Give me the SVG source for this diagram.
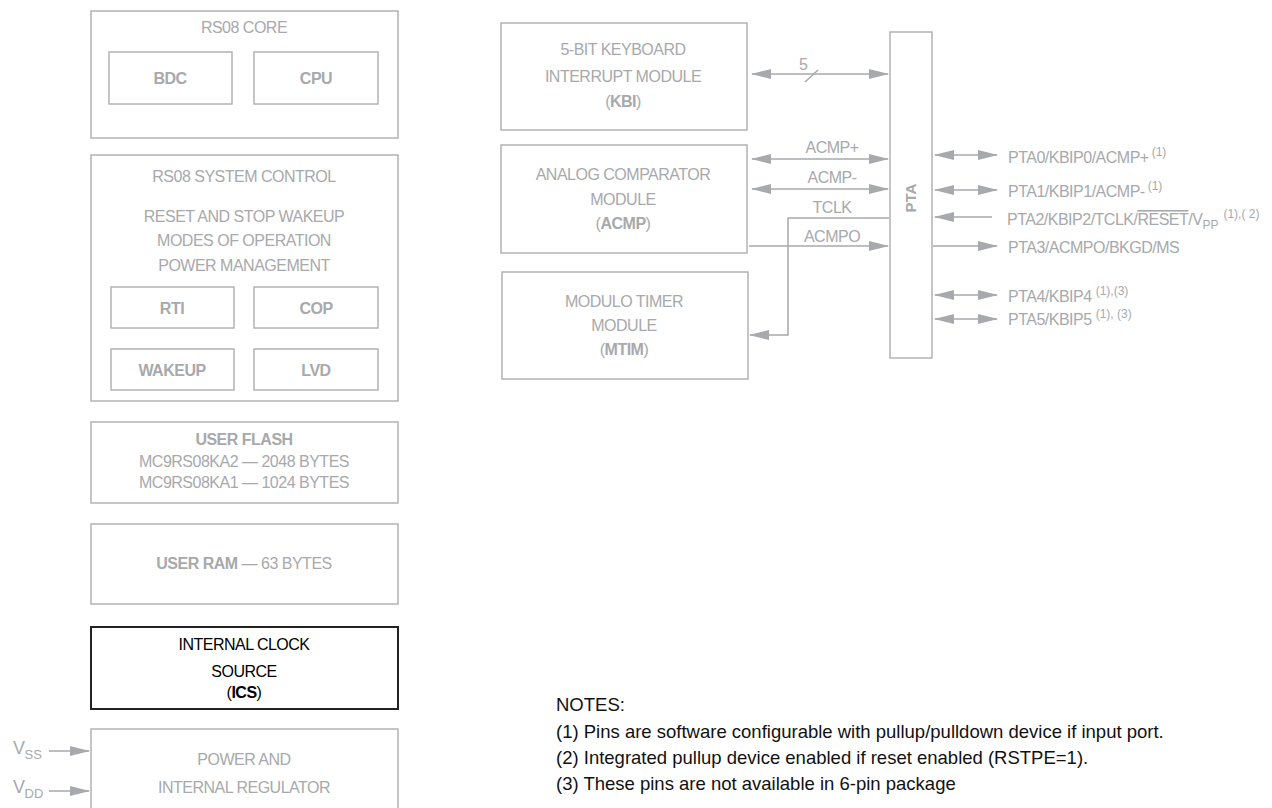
<svg xmlns="http://www.w3.org/2000/svg" width="1272" height="808" viewBox="0 0 1272 808">
<style>
text{font-family:"Liberation Sans",Arial,sans-serif;font-size:16px;fill:#a7a9ac;letter-spacing:-0.5px}
.c{text-anchor:middle}
.b{font-weight:bold}
.k{fill:#000}
.box{fill:none;stroke:#b3b3b3;stroke-width:1.5}
.kbox{fill:none;stroke:#222;stroke-width:2}
.ln{fill:none;stroke:#a7a9ac;stroke-width:1.5}
.note{fill:#111;font-size:18.5px;letter-spacing:0}
.sm{font-size:12px;letter-spacing:0}
</style>
<defs>
<marker id="ah" viewBox="0 0 20 10" refX="19" refY="5" markerWidth="20" markerHeight="10" markerUnits="userSpaceOnUse" orient="auto-start-reverse">
<path d="M0,0 L20,5 L0,10 z" fill="#a7a9ac"/>
</marker>
</defs>
<rect width="1272" height="808" fill="#fff"/>

<g id="rs08core">
<rect class="box" x="91" y="11" width="307" height="127"/>
<text class="c" x="244" y="33">RS08 CORE</text>
</g>
<g id="bdc"><rect class="box" x="109" y="52" width="123" height="52"/><text class="c b" x="170" y="84">BDC</text></g>
<g id="cpu"><rect class="box" x="254" y="52" width="124" height="52"/><text class="c b" x="316" y="84">CPU</text></g>

<g id="sysctl">
<rect class="box" x="91" y="155" width="307" height="246"/>
<text class="c" x="244" y="182">RS08 SYSTEM CONTROL</text>
<text class="c" x="244" y="222">RESET AND STOP WAKEUP</text>
<text class="c" x="244" y="246">MODES OF OPERATION</text>
<text class="c" x="244" y="271">POWER MANAGEMENT</text>
</g>
<g id="rti"><rect class="box" x="111" y="287" width="123" height="41"/><text class="c b" x="172" y="314">RTI</text></g>
<g id="cop"><rect class="box" x="254" y="287" width="124" height="41"/><text class="c b" x="316" y="314">COP</text></g>
<g id="wakeup"><rect class="box" x="111" y="349" width="123" height="41"/><text class="c b" x="172" y="376">WAKEUP</text></g>
<g id="lvd"><rect class="box" x="254" y="349" width="124" height="41"/><text class="c b" x="316" y="376">LVD</text></g>

<g id="flash">
<rect class="box" x="91" y="422" width="307" height="81"/>
<text class="c b" x="244" y="445">USER FLASH</text>
<text class="c" x="244" y="467">MC9RS08KA2 — 2048 BYTES</text>
<text class="c" x="244" y="488">MC9RS08KA1 — 1024 BYTES</text>
</g>
<g id="ram">
<rect class="box" x="91" y="524" width="307" height="80"/>
<text class="c" x="244" y="569"><tspan class="b">USER RAM</tspan> — 63 BYTES</text>
</g>
<g id="ics">
<rect class="kbox" x="91" y="627" width="307" height="82"/>
<text class="c k" x="244" y="650">INTERNAL CLOCK</text>
<text class="c k" x="244" y="677">SOURCE</text>
<text class="c k" x="244" y="698">(<tspan class="b">ICS</tspan>)</text>
</g>
<g id="power">
<rect class="box" x="91" y="729" width="307" height="100"/>
<text class="c" x="244" y="765">POWER AND</text>
<text class="c" x="244" y="793">INTERNAL REGULATOR</text>
</g>
<g id="vss"><text x="13" y="754" style="font-size:18px">V<tspan class="sm" style="font-size:13px" dy="5">SS</tspan></text></g>
<g id="vdd"><text x="13" y="793" style="font-size:18px">V<tspan class="sm" style="font-size:13px" dy="5">DD</tspan></text></g>

<g id="kbi">
<rect class="box" x="501" y="23" width="246" height="107"/>
<text class="c" x="623" y="55">5-BIT KEYBOARD</text>
<text class="c" x="623" y="82">INTERRUPT MODULE</text>
<text class="c" x="623" y="107">(<tspan class="b">KBI</tspan>)</text>
</g>
<g id="acmp">
<rect class="box" x="501" y="145" width="246" height="108"/>
<text class="c" x="623" y="180">ANALOG COMPARATOR</text>
<text class="c" x="623" y="205">MODULE</text>
<text class="c" x="623" y="229">(<tspan class="b">ACMP</tspan>)</text>
</g>
<g id="mtim">
<rect class="box" x="502" y="272" width="246" height="107"/>
<text class="c" x="624" y="307">MODULO TIMER</text>
<text class="c" x="624" y="331">MODULE</text>
<text class="c" x="624" y="355">(<tspan class="b">MTIM</tspan>)</text>
</g>
<g id="pta">
<rect class="box" x="890" y="32" width="42" height="326"/>
<text class="c b" transform="translate(916,198) rotate(-90)" style="font-size:15px;letter-spacing:0">PTA</text>
</g>

<g id="connectors">
<line class="ln" x1="752" y1="74" x2="888" y2="74" marker-start="url(#ah)" marker-end="url(#ah)"/>
<line class="ln" x1="805" y1="82" x2="818" y2="70"/>
<line class="ln" x1="752" y1="159" x2="888" y2="159" marker-start="url(#ah)" marker-end="url(#ah)"/>
<line class="ln" x1="752" y1="189" x2="888" y2="189" marker-start="url(#ah)" marker-end="url(#ah)"/>
<polyline class="ln" points="889,218 788,218 788,335 750,335" marker-end="url(#ah)"/>
<line class="ln" x1="749" y1="246" x2="888" y2="246" marker-end="url(#ah)"/>
<line class="ln" x1="935" y1="155" x2="997" y2="155" marker-start="url(#ah)" marker-end="url(#ah)"/>
<line class="ln" x1="935" y1="190" x2="997" y2="190" marker-start="url(#ah)" marker-end="url(#ah)"/>
<line class="ln" x1="935" y1="217" x2="992" y2="217" marker-start="url(#ah)"/>
<line class="ln" x1="933" y1="246" x2="997" y2="246" marker-end="url(#ah)"/>
<line class="ln" x1="935" y1="295" x2="997" y2="295" marker-start="url(#ah)" marker-end="url(#ah)"/>
<line class="ln" x1="935" y1="319" x2="997" y2="319" marker-start="url(#ah)" marker-end="url(#ah)"/>
<line class="ln" x1="49" y1="751" x2="89" y2="751" marker-end="url(#ah)"/>
<line class="ln" x1="49" y1="791" x2="89" y2="791" marker-end="url(#ah)"/>
<text x="799" y="70" style="letter-spacing:0">5</text>
<text class="c" x="832" y="153">ACMP+</text>
<text class="c" x="832" y="183">ACMP-</text>
<text class="c" x="832" y="213">TCLK</text>
<text class="c" x="832" y="242">ACMPO</text>
</g>

<g id="pins">
<text x="1008" y="163">PTA0/KBIP0/ACMP+<tspan class="sm" dx="3" dy="-7">(1)</tspan></text>
<text x="1008" y="197">PTA1/KBIP1/ACMP-<tspan class="sm" dx="3" dy="-7">(1)</tspan></text>
<text x="1007" y="225">PTA2/KBIP2/TCLK/<tspan text-decoration="overline">RESET</tspan>/V<tspan class="sm" dy="4">PP</tspan><tspan class="sm" dx="5" dy="-11">(1),( 2)</tspan></text>
<text x="1008" y="253">PTA3/ACMPO/BKGD/MS</text>
<text x="1008" y="302">PTA4/KBIP4<tspan class="sm" dx="4" dy="-7">(1),(3)</tspan></text>
<text x="1008" y="325">PTA5/KBIP5<tspan class="sm" dx="4" dy="-7">(1), (3)</tspan></text>
</g>

<g id="notes">
<text class="note" x="556" y="711">NOTES:</text>
<text class="note" x="556" y="738">(1) Pins are software configurable with pullup/pulldown device if input port.</text>
<text class="note" x="556" y="764">(2) Integrated pullup device enabled if reset enabled (RSTPE=1).</text>
<text class="note" x="556" y="790">(3) These pins are not available in 6-pin package</text>
</g>
</svg>
